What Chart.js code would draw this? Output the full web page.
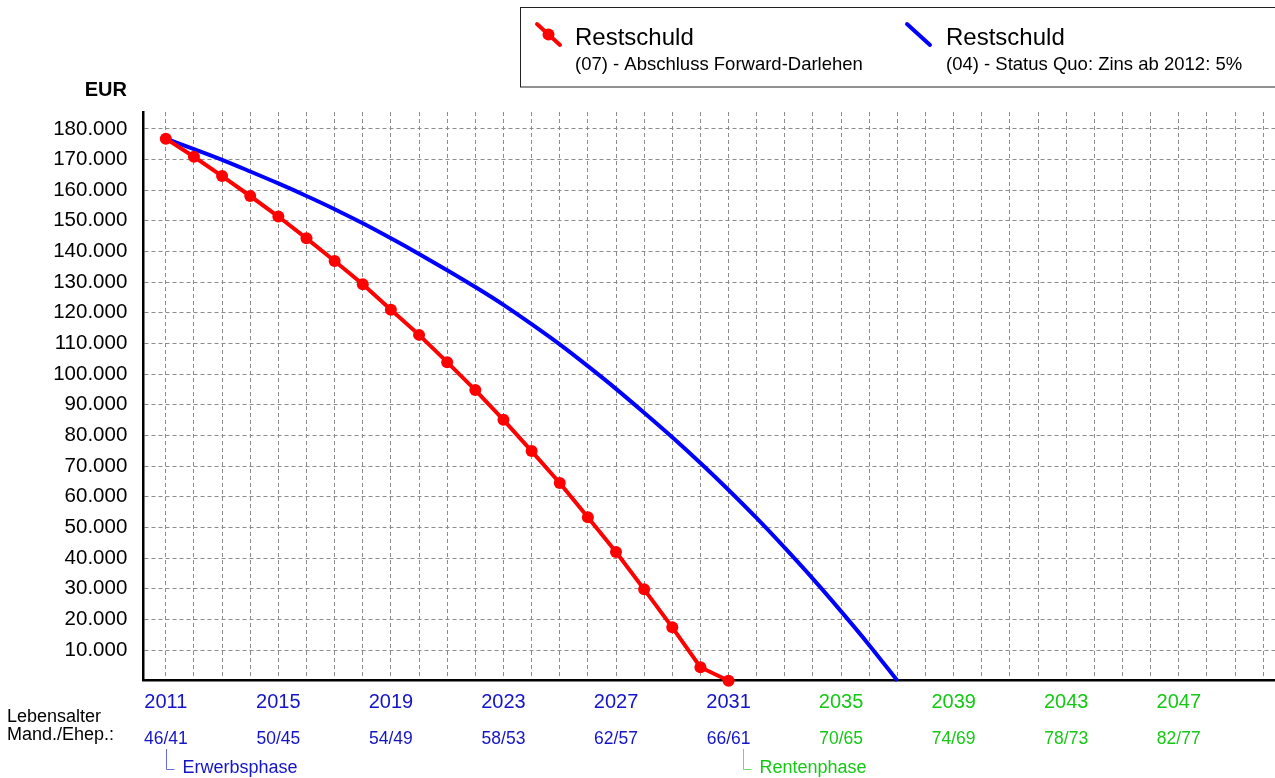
<!DOCTYPE html>
<html lang="de">
<head>
<meta charset="UTF-8">
<title>Restschuld</title>
<script src="https://cdn.jsdelivr.net/npm/chart.js@4.4.1/dist/chart.umd.min.js"></script>
<style>
  body { margin: 0; background: #fff; }
  canvas { display: block; }
</style>
</head>
<body>
<canvas id="myChart" width="1275" height="778"></canvas>
<script>
// Forward-Darlehen (07), jährlich
const forwardYears = [2011, 2012, 2013, 2014, 2015, 2016, 2017, 2018, 2019, 2020, 2021,
                      2022, 2023, 2024, 2025, 2026, 2027, 2028, 2029, 2030, 2031];
const forwardValues = [176800, 170900, 164600, 158100, 151400, 144300, 136900, 129300, 121000, 112800, 103900,
                       94800, 85100, 74900, 64500, 53300, 42000, 29800, 17400, 4400, 0];

// Status Quo (04)
const statusYears = [2011, 2012, 2013, 2014, 2015, 2016, 2017, 2018, 2019, 2020, 2021, 2022, 2023, 2024,
                     2025, 2026, 2027, 2028, 2029, 2030, 2031, 2032, 2033, 2034, 2035, 2036, 2037];
const statusValues = [176800, 173400, 169900, 166100, 162200, 158100, 153800, 149200, 144300, 139200, 133900, 128400, 122600, 116300,
                      109700, 102600, 95200, 87400, 79400, 71000, 62200, 53000, 43300, 33200, 22600, 11600, 0];

// Achsen
const gridYears = [];
for (let y = 2011; y <= 2050; y++) gridYears.push(y);
const labelYears = [2011, 2015, 2019, 2023, 2027, 2031, 2035, 2039, 2043, 2047];
const ageLabels = ['46/41', '50/45', '54/49', '58/53', '62/57', '66/61', '70/65', '74/69', '78/73', '82/77'];
const yTicks = [0, 10000, 20000, 30000, 40000, 50000, 60000, 70000, 80000, 90000,
                100000, 110000, 120000, 130000, 140000, 150000, 160000, 170000, 180000];
const rentenStart = 2035; // ab hier grün
const phases = [
    { year: 2011, text: 'Erwerbsphase', color: '#1414c8', line: '#6a6ae0' },
    { year: 2031.5, text: 'Rentenphase', color: '#14c814', line: '#70d870' }
];

const FONT = "'Liberation Sans', Arial, sans-serif";
const BLUE_TXT = '#1414c8';
const GREEN_TXT = '#14c814';

function fmt(v) {
    return String(v).replace(/\B(?=(\d{3})+(?!\d))/g, '.');
}

// Legende, EUR, Lebensalter, Phasen
const extras = {
    id: 'extras',
    afterDraw(chart) {
        const c = chart.ctx;
        const xs = chart.scales.x;
        c.save();

        // legend box
        c.strokeStyle = '#222';
        c.lineWidth = 1;
        c.strokeRect(520.5, 7.5, 800, 79.5);

        c.lineCap = 'round';
        c.strokeStyle = '#ff0000';
        c.lineWidth = 4;
        c.beginPath(); c.moveTo(537, 24); c.lineTo(560, 45); c.stroke();
        c.fillStyle = '#ff0000';
        c.beginPath(); c.arc(548.5, 34.5, 6, 0, Math.PI * 2); c.fill();

        c.strokeStyle = '#0000ff';
        c.beginPath(); c.moveTo(907, 24); c.lineTo(930, 45); c.stroke();

        c.fillStyle = '#000';
        c.textAlign = 'left';
        c.textBaseline = 'alphabetic';
        c.font = '24px ' + FONT;
        c.fillText('Restschuld', 575, 45);
        c.fillText('Restschuld', 946, 45);
        c.font = '18.5px ' + FONT;
        c.fillText('(07) - Abschluss Forward-Darlehen', 575, 70);
        c.fillText('(04) - Status Quo: Zins ab 2012: 5%', 946, 70);

        // EUR
        c.font = 'bold 20px ' + FONT;
        c.textAlign = 'right';
        c.fillText('EUR', 127, 96);

        // Lebensalter
        c.font = '18px ' + FONT;
        c.textAlign = 'left';
        c.fillText('Lebensalter', 7, 722);
        c.fillText('Mand./Ehep.:', 7, 740);

        // ages under years
        c.font = '17.5px ' + FONT;
        c.textAlign = 'center';
        labelYears.forEach((yr, i) => {
            c.fillStyle = yr >= rentenStart ? GREEN_TXT : BLUE_TXT;
            c.fillText(ageLabels[i], xs.getPixelForValue(yr), 744);
        });

        // phases
        c.lineCap = 'butt';
        c.textAlign = 'left';
        c.font = '18px ' + FONT;
        phases.forEach(p => {
            const px = Math.round(xs.getPixelForValue(p.year)) + 0.5;
            c.strokeStyle = p.line;
            c.lineWidth = 1;
            c.beginPath();
            c.moveTo(px, 749);
            c.lineTo(px, 769.5);
            c.lineTo(px + 8, 769.5);
            c.stroke();
            c.fillStyle = p.color;
            c.fillText(p.text, px + 16, 773);
        });

        c.restore();
    }
};

const ctx = document.getElementById('myChart').getContext('2d');
const myChart = new Chart(ctx, {
    type: 'line',
    data: {
        datasets: [{
            label: 'Restschuld (07) - Abschluss Forward-Darlehen',
            data: forwardYears.map((x, i) => ({ x: x, y: forwardValues[i] })),
            borderColor: '#ff0000',
            backgroundColor: '#ff0000',
            borderWidth: 4,
            pointRadius: 6,
            pointBorderWidth: 0,
            pointBackgroundColor: '#ff0000',
            tension: 0,
            clip: false
        }, {
            label: 'Restschuld (04) - Status Quo: Zins ab 2012: 5%',
            data: statusYears.map((x, i) => ({ x: x, y: statusValues[i] })),
            borderColor: '#0000ff',
            backgroundColor: '#0000ff',
            borderWidth: 4,
            pointRadius: 0,
            cubicInterpolationMode: 'monotone',
            clip: false
        }]
    },
    options: {
        responsive: false,
        animation: false,
        devicePixelRatio: 1,
        layout: { autoPadding: false, padding: { top: 112, left: 0, right: 0, bottom: 0 } },
        plugins: {
            legend: { display: false },
            tooltip: { enabled: false }
        },
        scales: {
            x: {
                type: 'linear',
                min: 2010.2,
                max: 2050.42,
                afterBuildTicks: (scale) => { scale.ticks = gridYears.map(v => ({ value: v })); },
                afterFit: (scale) => { scale.height = 97.3; scale.paddingLeft = 0; scale.paddingRight = 0; },
                grid: { color: '#8c8c8c', lineWidth: 1, drawTicks: false },
                border: { display: true, color: '#000', width: 2.5, dash: [4, 3] },
                ticks: {
                    autoSkip: false,
                    maxRotation: 0,
                    padding: 10,
                    font: { family: FONT, size: 20 },
                    color: (c) => (c.tick && c.tick.value >= rentenStart) ? GREEN_TXT : BLUE_TXT,
                    callback: (v) => labelYears.includes(v) ? String(v) : ''
                }
            },
            y: {
                min: 0,
                max: 185500,
                afterBuildTicks: (scale) => { scale.ticks = yTicks.map(v => ({ value: v })); },
                afterFit: (scale) => { scale.width = 143.3; },
                grid: { color: '#8c8c8c', lineWidth: 1, drawTicks: false },
                border: { display: true, color: '#000', width: 2.5, dash: [4, 3] },
                ticks: {
                    padding: 16,
                    font: { family: FONT, size: 20.5 },
                    color: '#000',
                    callback: (v) => v === 0 ? '' : fmt(v)
                }
            }
        }
    },
    plugins: [extras]
});
</script>
</body>
</html>
